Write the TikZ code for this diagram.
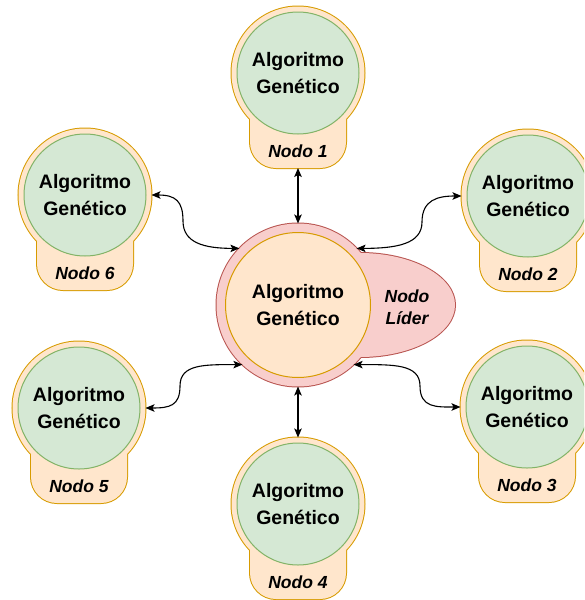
\documentclass[tikz,border=0pt]{standalone}
\usepackage{fontspec}
\setmainfont{Liberation Sans}
\usetikzlibrary{arrows.meta,shapes.geometric}
\definecolor{gfill}{HTML}{D5E8D4}
\definecolor{gline}{HTML}{82B366}
\definecolor{ofill}{HTML}{FFE6CC}
\definecolor{oline}{HTML}{D79B00}
\definecolor{rfill}{HTML}{F8CECC}
\definecolor{rline}{HTML}{B85450}
\tikzset{
  outc/.style={circle, draw=oline, fill=ofill, line width=2pt, minimum size=133pt, inner sep=0pt, outer sep=0pt},
  outf/.style={circle, fill=ofill, minimum size=133pt, inner sep=0pt, outer sep=0pt},
  tabc/.style={rectangle, rounded corners=26pt, draw=oline, fill=ofill, line width=2pt, minimum width=96pt, minimum height=95pt, anchor=north, inner sep=0pt, outer sep=0pt},
  tabf/.style={rectangle, rounded corners=26pt, fill=ofill, minimum width=96pt, minimum height=95pt, anchor=north, inner sep=0pt, outer sep=0pt},
  greenc/.style={circle, draw=gline, fill=gfill, line width=1pt, minimum size=122pt, inner sep=0pt, align=center, font=\bfseries\fontsize{19.5}{27}\selectfont},
  lbl/.style={font=\bfseries\itshape\fontsize{17.5}{22}\selectfont, inner sep=0pt, align=center},
  arr/.style={{Stealth[length=9pt,width=7.5pt,inset=2pt]}-{Stealth[length=9pt,width=7.5pt,inset=2pt]}, line width=1.1pt, black}
}
\newcommand{\gaNodo}[4]{%
  \node[tabc] (#1t) at (#2,#3) {};
  \node[outc] (#1o) at (#2,#3) {};
  \node[tabf] (#1f) at (#2,#3) {};
  \node[outf] (#1g) at (#2,#3) {};
  \node[greenc] (#1) at (#2,#3) {Algoritmo\\Genético};
  \node[lbl] (#1l) at ({#2},{#3+78}) {Nodo #4};
}
\begin{document}
\begin{tikzpicture}[x=1pt,y=-1pt]
\useasboundingbox (0,0) rectangle (584,600);
\clip (0,0) rectangle (584,600);
% peer nodes
\gaNodo{na}{298}{73}{1}
\gaNodo{nb}{528}{196}{2}
\gaNodo{nc}{527}{407}{3}
\gaNodo{nd}{298}{504}{4}
\gaNodo{ne}{79}{408}{5}
\gaNodo{nf}{85}{195}{6}
% leader node
\node[ellipse, draw=rline, fill=rfill, line width=2pt, minimum width=190pt, minimum height=104pt, inner sep=0pt, outer sep=0pt] (lobe) at (360,305) {};
\node[circle, draw=rline, fill=rfill, line width=2pt, minimum size=163pt, inner sep=0pt, outer sep=0pt] (c) at (298,305) {};
\node[ellipse, fill=rfill, minimum width=190pt, minimum height=104pt, inner sep=0pt, outer sep=0pt] (lobef) at (360,305) {};
\node[circle, fill=rfill, minimum size=163pt, inner sep=0pt, outer sep=0pt] (cf) at (298,305) {};
\node[circle, draw=oline, fill=ofill, line width=1pt, minimum size=145pt, inner sep=0pt, align=center, font=\bfseries\fontsize{19.5}{27}\selectfont] (cin) at (298,305) {Algoritmo\\Genético};
\node[lbl] (lider) at (407,307) {Nodo\\Líder};
% connectors
\draw[arr] (nat.south) -- (c.north);
\draw[arr] (c.south) -- (ndo.north);
\draw[arr] (nfo.east) .. controls +(24,0) and +(0,-20) .. (183,221) .. controls +(0,22) and +(-35,0) .. (c.136);
\draw[arr] (c.44) .. controls +(40,0) and +(0,22) .. (422,222) .. controls +(0,-22) and +(-24,0) .. (nbo.west);
\draw[arr] (neo.east) .. controls +(24,0) and +(0,20) .. (180,386) .. controls +(0,-22) and +(-38,0) .. (c.227);
\draw[arr] (c.313) .. controls +(40,0) and +(0,-22) .. (420,386) .. controls +(0,22) and +(-24,0) .. (nco.west);
\end{tikzpicture}
\end{document}
